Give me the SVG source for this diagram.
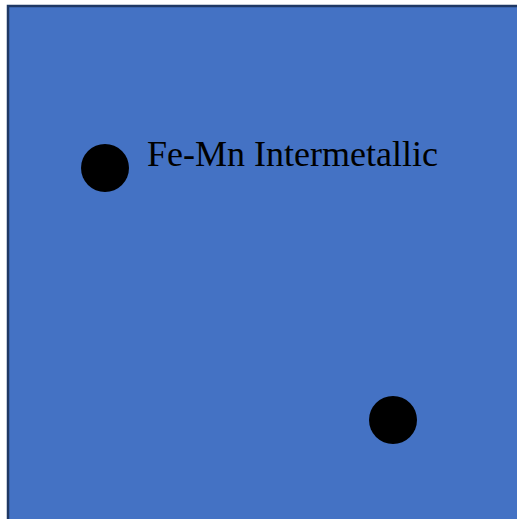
<svg xmlns="http://www.w3.org/2000/svg" width="517" height="519" viewBox="0 0 517 519">
<style>
.dot{fill:#000000}
.lbl{font-family:"Liberation Serif","Times New Roman",serif;font-size:36px;fill:#000000}
</style>
<rect x="0" y="0" width="517" height="519" fill="#ffffff"/>
<g id="matrix">
<rect x="8" y="6" width="520" height="525" fill="#4472C4" stroke="#1F3864" stroke-width="2.5"/>
</g>
<g id="particle1">
<circle class="dot" cx="105" cy="168" r="24"/>
<text class="lbl" x="147" y="166">Fe-Mn Intermetallic</text>
</g>
<g id="particle2">
<circle class="dot" cx="393" cy="420" r="24"/>
</g>
<g id="connectors"></g>
</svg>
